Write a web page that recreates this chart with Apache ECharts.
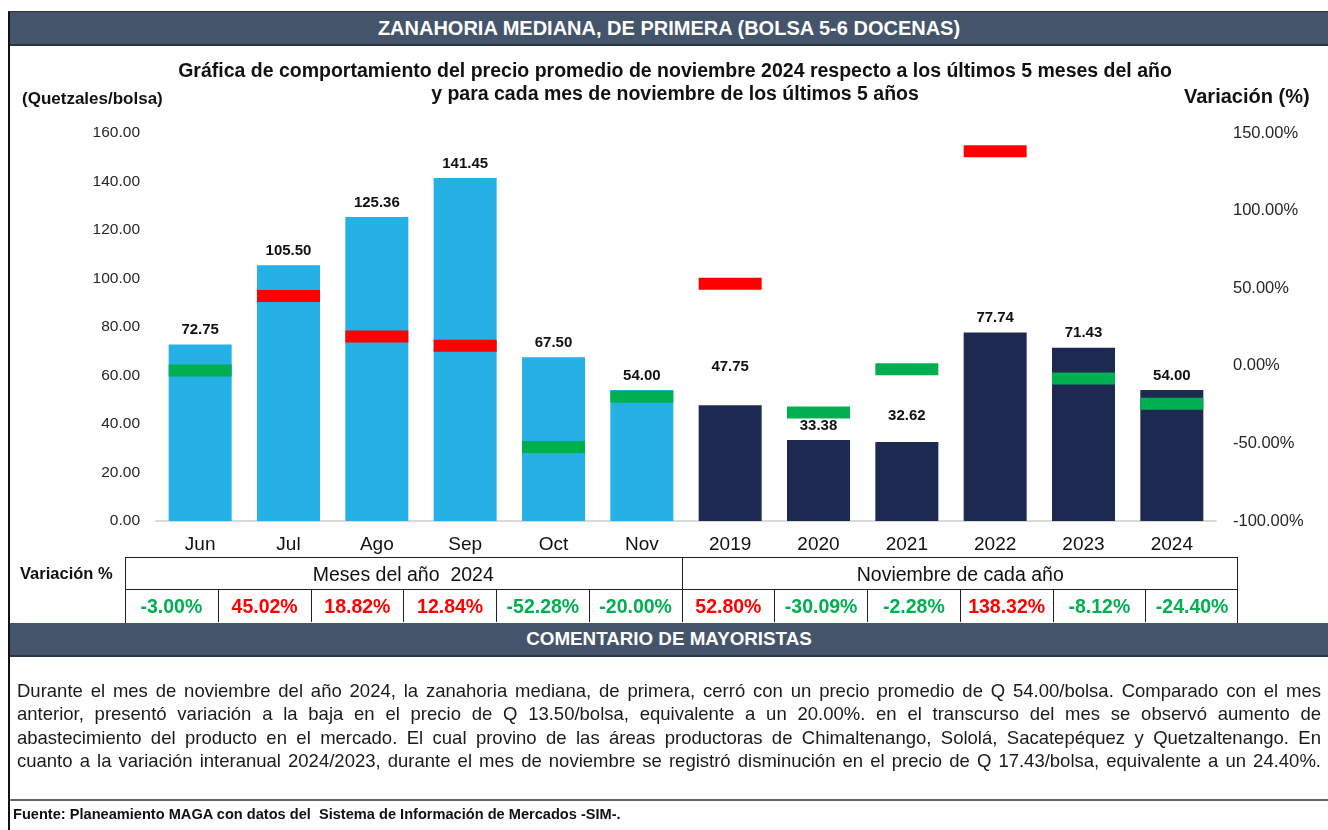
<!DOCTYPE html>
<html>
<head>
<meta charset="utf-8">
<script src="https://cdn.jsdelivr.net/npm/echarts@6/dist/echarts.min.js"></script>
<style>
body{margin:0;background:#fff;font-family:"Liberation Sans",Arial,sans-serif;}
#page{position:relative;width:1328px;height:830px;overflow:hidden;background:#fff;}
#chart{position:absolute;left:0;top:0;width:1328px;height:830px;}
.abs{position:absolute;}
.bar{position:absolute;left:10px;right:0;background:#44546a;color:#fff;font-weight:bold;text-align:center;border-bottom:2px solid #2b3442;}
.cell{position:absolute;top:590px;height:32px;width:92.75px;border-left:1px solid #222;box-sizing:border-box;text-align:center;line-height:32px;font-weight:bold;font-size:19.5px;}
.para div{text-align:justify;text-align-last:justify;white-space:nowrap;height:23.3px;}
</style>
</head>
<body>
<div id="page">
  <div class="abs" style="left:8px;top:11px;width:2px;height:819px;background:#111"></div>
  <div class="abs" style="left:8px;top:11px;right:0;height:1px;background:#333"></div>
  <div class="bar" style="top:12px;height:32px;line-height:32px;font-size:20px">ZANAHORIA MEDIANA, DE PRIMERA (BOLSA 5-6 DOCENAS)</div>

  <div id="chart"></div>

  <div class="abs" style="left:20px;top:564px;font-size:16.5px;font-weight:bold;color:#111">Variación %</div>
  <div class="abs" id="tbl" style="left:125px;top:557px;width:1113px;height:66px;border:1px solid #222;border-bottom:none;box-sizing:border-box"></div>

  <div class="bar" style="top:623px;height:32px;line-height:32px;font-size:18.8px">COMENTARIO DE MAYORISTAS</div>

  <div class="abs para" style="left:17px;top:679px;width:1304px;font-size:18.5px;line-height:23.3px;color:#1a1a1a">
    <div>Durante el mes de noviembre del año 2024, la zanahoria mediana, de primera, cerró con un precio promedio de Q 54.00/bolsa. Comparado con el mes</div>
    <div>anterior, presentó variación a la baja en el precio de Q 13.50/bolsa, equivalente a un 20.00%. en el transcurso del mes se observó aumento de</div>
    <div>abastecimiento del producto en el mercado. El cual provino de las áreas productoras de Chimaltenango, Sololá, Sacatepéquez y Quetzaltenango. En</div>
    <div>cuanto a la variación interanual 2024/2023, durante el mes de noviembre se registró disminución en el precio de Q 17.43/bolsa, equivalente a un 24.40%.</div>
  </div>

  <div class="abs" style="left:10px;top:799px;right:0;height:2px;background:#666"></div>
  <div class="abs" style="left:13px;top:806px;font-size:14.6px;font-weight:bold;color:#111">Fuente: Planeamiento MAGA con datos del&nbsp; Sistema de Información de Mercados -SIM-.</div>
</div>

<script>
// datos
const categories = ['Jun', 'Jul', 'Ago', 'Sep', 'Oct', 'Nov', '2019', '2020', '2021', '2022', '2023', '2024'];
const prices = [72.75, 105.50, 125.36, 141.45, 67.50, 54.00, 47.75, 33.38, 32.62, 77.74, 71.43, 54.00];
const variation = [-3.00, 45.02, 18.82, 12.84, -52.28, -20.00, 52.80, -30.09, -2.28, 138.32, -8.12, -24.40];
const groups = ['Meses del año  2024', 'Noviembre de cada año'];
const priceAxis = { min: 0, max: 160, interval: 20 };
const varAxis = { min: -100, max: 150, interval: 50 };

const RED = '#ff0000';
const GREEN = '#00b050';
const MONTH_BLUE = '#25b0e6';
const YEAR_NAVY = '#1e2952';

// etiquetas movidas a mano como en el original
const labelShift = { 6: -24, 8: -12 };

// tabla de variaciones
const tbl = document.getElementById('tbl');
groups.forEach((g, i) => {
  const d = document.createElement('div');
  d.className = 'abs';
  d.style.cssText = 'top:0;height:32px;line-height:32px;font-size:19.5px;text-align:center;color:#111;width:' + (6 * 92.75) + 'px;left:' + (i * 6 * 92.75 - 1) + 'px;border-bottom:1px solid #222;box-sizing:border-box;' + (i ? 'border-left:1px solid #222;' : '');
  d.style.whiteSpace = 'pre';
  d.textContent = g;
  tbl.appendChild(d);
});
variation.forEach((v, i) => {
  const c = document.createElement('div');
  c.className = 'cell';
  c.style.top = '32px';
  c.style.left = (i * 92.75 - 1) + 'px';
  if (i === 0) c.style.borderLeft = 'none';
  c.style.color = v >= 0 ? RED : GREEN;
  c.textContent = v.toFixed(2) + '%';
  tbl.appendChild(c);
});

const chart = echarts.init(document.getElementById('chart'));
const option = {
  animation: false,
  textStyle: { fontFamily: '"Liberation Sans", Arial, sans-serif' },
  title: {
    text: 'Gráfica de comportamiento del precio promedio de noviembre 2024 respecto a los últimos 5 meses del año\ny para cada mes de noviembre de los últimos 5 años',
    left: 670,
    top: 55,
    textAlign: 'center',
    textStyle: { fontSize: 19.5, fontWeight: 'bold', color: '#111', lineHeight: 23 }
  },
  graphic: [
    { type: 'text', left: 22, top: 91, style: { text: '(Quetzales/bolsa)', font: 'bold 17px "Liberation Sans", Arial', fill: '#111' } },
    { type: 'text', left: 1184, top: 87, style: { text: 'Variación (%)', font: 'bold 20px "Liberation Sans", Arial', fill: '#111' } }
  ],
  grid: { left: 156, right: 112, top: 133, height: 388 },
  xAxis: {
    type: 'category',
    data: categories,
    axisTick: { show: false },
    axisLine: { lineStyle: { color: '#d9d9d9', width: 2 } },
    axisLabel: { color: '#111', fontSize: 19, margin: 14 }
  },
  yAxis: [
    {
      type: 'value',
      min: priceAxis.min, max: priceAxis.max, interval: priceAxis.interval,
      splitLine: { show: false },
      axisLine: { show: false },
      axisLabel: { color: '#262626', fontSize: 15.5, margin: 16, formatter: v => v.toFixed(2) }
    },
    {
      type: 'value',
      min: varAxis.min, max: varAxis.max, interval: varAxis.interval,
      splitLine: { show: false },
      axisLine: { show: false },
      axisLabel: { color: '#262626', fontSize: 16.5, margin: 17, formatter: v => v.toFixed(2) + '%' }
    }
  ],
  series: [
    {
      type: 'bar',
      barWidth: 63,
      data: prices.map((p, i) => ({
        value: p,
        itemStyle: { color: i < 6 ? MONTH_BLUE : YEAR_NAVY },
        label: labelShift[i] ? { offset: [0, labelShift[i]] } : undefined
      })),
      label: {
        show: true,
        position: 'top',
        distance: 7,
        fontSize: 15,
        fontWeight: 'bold',
        color: '#111',
        formatter: p => p.value.toFixed(2)
      }
    },
    {
      type: 'scatter',
      yAxisIndex: 1,
      symbol: 'rect',
      symbolSize: [63, 12],
      z: 5,
      data: variation.map(v => ({ value: v, itemStyle: { color: v >= 0 ? RED : GREEN, opacity: 1 } }))
    }
  ]
};
chart.setOption(option);
</script>
</body>
</html>
